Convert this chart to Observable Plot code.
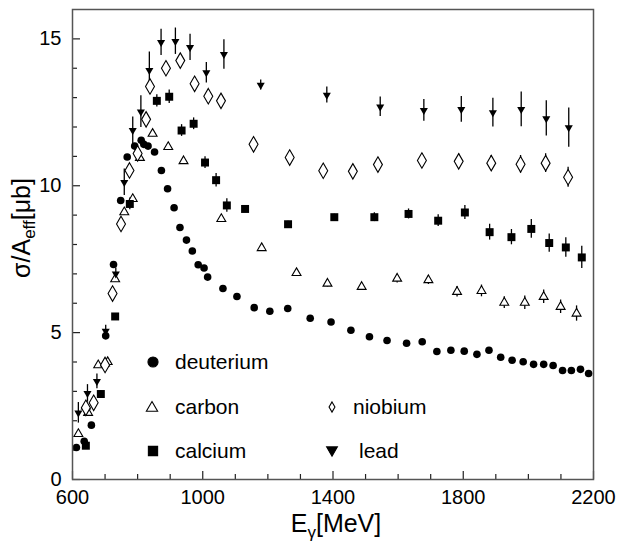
<!DOCTYPE html>
<html><head><meta charset="utf-8">
<script src="https://cdn.jsdelivr.net/npm/d3@7"></script>
<script src="https://cdn.jsdelivr.net/npm/@observablehq/plot@0.6"></script>
<style>
body{margin:0;background:#fff}
#chart{position:relative;width:618px;height:547px}
</style></head><body><div id="chart"></div>
<script>
// ---- data (photon energy in MeV, sigma/A_eff in microbarn) ----
const deutE = [612,636,658,702,726,748,768,791,811,819,832,852,873,892,912,930,950,968,986,1004,1015,1062,1105,1158,1206,1261,1330,1394,1455,1512,1566,1626,1674,1719,1762,1803,1842,1879,1915,1950,1984,2016,2047,2076,2105,2132,2160,2185];
const deutV = [1.09,1.30,1.85,4.89,7.32,9.50,10.98,11.35,11.55,11.41,11.35,11.15,10.52,9.90,9.25,8.58,8.15,7.78,7.31,7.20,6.89,6.50,6.23,5.85,5.73,5.82,5.49,5.36,5.08,4.86,4.73,4.64,4.69,4.36,4.40,4.37,4.26,4.40,4.16,4.06,4.01,3.92,3.92,3.88,3.71,3.71,3.75,3.61];

const carbE = [618,641,648,679,700,708,731,759,785,807,846,894,941,1057,1181,1288,1383,1488,1597,1693,1781,1856,1926,1989,2047,2099,2148];
const carbV = [1.55,2.49,2.27,3.89,3.95,4.00,6.82,9.10,9.55,10.95,11.77,11.32,10.84,8.87,7.88,7.03,6.67,6.56,6.84,6.79,6.39,6.42,6.02,6.02,6.22,5.88,5.65];
const carbErr = [0.1,0.1,0.1,0.1,0.1,0.1,0.1,0.1,0.1,0.1,0.1,0.1,0.1,0.1,0.1,0.1,0.12,0.12,0.15,0.15,0.18,0.2,0.2,0.23,0.23,0.23,0.26];

const calcE = [641,687,731,776,859,897,935,972,1007,1041,1074,1130,1262,1404,1527,1632,1723,1805,1881,1948,2009,2064,2115,2164];
const calcV = [1.15,2.91,5.55,9.38,12.89,13.03,11.88,12.11,10.79,10.19,9.33,9.21,8.69,8.93,8.93,9.04,8.81,9.09,8.42,8.25,8.53,8.05,7.90,7.56];
const calcErr = [0.1,0.1,0.1,0.2,0.21,0.23,0.2,0.2,0.2,0.23,0.23,0.1,0.1,0.1,0.15,0.17,0.2,0.24,0.27,0.26,0.32,0.31,0.33,0.38];

const niobE = [641,665,700,723,749,775,800,826,838,887,931,975,1017,1056,1156,1267,1370,1461,1538,1673,1786,1886,1976,2053,2122];
const niobV = [2.44,2.61,3.90,6.33,8.70,10.52,11.10,12.26,13.38,14.00,14.26,13.47,13.05,12.89,11.41,10.96,10.51,10.49,10.72,10.86,10.83,10.77,10.73,10.77,10.29];
const niobErr = [0.1,0.1,0.1,0.1,0.1,0.2,0.2,0.2,0.2,0.2,0.2,0.2,0.2,0.2,0.2,0.2,0.2,0.2,0.22,0.24,0.25,0.26,0.3,0.32,0.34];

const leadE = [618,646,675,702,733,759,785,810,836,872,916,961,1011,1065,1178,1381,1545,1679,1794,1891,1978,2055,2124];
const leadV = [2.27,2.93,3.34,5.05,7.00,10.12,11.89,12.52,13.93,14.88,14.92,14.71,13.85,14.47,13.43,13.09,12.69,12.57,12.60,12.49,12.60,12.29,11.98];
const leadErr = [0.35,0.3,0.25,0.2,0.2,0.45,0.45,0.54,0.62,0.45,0.45,0.45,0.35,0.5,0.17,0.27,0.33,0.37,0.44,0.49,0.59,0.6,0.67];

const xTicks = [600,1000,1400,1800,2200];
const xMinor = [700,800,900,1100,1200,1300,1500,1600,1700,1900,2000,2100];
const yTicks = [0,5,10,15];
const yMinor = [1,2,3,4,6,7,8,9,11,12,13,14];
const legendNames = ["deuterium","carbon","calcium","niobium","lead"];

// ---- layout ----
const W = 618, H = 547;
const mL = 72, mR = 25, mT = 9, mB = 68;
const plotW = W - mL - mR, plotH = H - mT - mB;

const triDown = {draw(ctx, size){
  const y = -Math.sqrt(size/(Math.sqrt(3)*3)), s = Math.sqrt(3);
  ctx.moveTo(0, -2*y); ctx.lineTo(-s*y, y); ctx.lineTo(s*y, y); ctx.closePath();
}};

const rows = (E, V, err) => E.map((e,i)=>({E:e, V:V[i], err: err ? err[i] : 0}));
const deut = rows(deutE, deutV, null);
const carb = rows(carbE, carbV, carbErr);
const calc = rows(calcE, calcV, calcErr);
const niob = rows(niobE, niobV, niobErr);
const lead = rows(leadE, leadV, leadErr);

const errBars = d => Plot.ruleX(d, {x:"E", y1: r=>r.V-r.err, y2: r=>r.V+r.err, stroke:"black", strokeWidth:1.3});

const chart = Plot.plot({
  width: W, height: H,
  marginLeft: mL, marginRight: mR, marginTop: mT, marginBottom: mB,
  style: {fontFamily: "'Liberation Sans', Arial, sans-serif", fontSize: "20px", background: "white", color: "black"},
  x: {domain: [600, 2200]},
  y: {domain: [0, 16]},
  marks: [
    Plot.tickY(yTicks, {y: d=>d, insetRight: plotW - 8, stroke: "#222", strokeWidth: 1.2}),
    Plot.tickY(yMinor, {y: d=>d, insetRight: plotW - 5, stroke: "#222", strokeWidth: 1.2}),
    Plot.tickX(xTicks, {x: d=>d, insetTop: plotH - 8, stroke: "#222", strokeWidth: 1.2}),
    Plot.tickX(xMinor, {x: d=>d, insetTop: plotH - 5, stroke: "#222", strokeWidth: 1.2}),
    Plot.axisX({ticks: xTicks, tickSize: 0, tickPadding: 10, label: null, fontSize: 20, tickFormat: d3.format("d")}),
    Plot.axisY({ticks: yTicks, tickSize: 0, tickPadding: 11, label: null, fontSize: 20, tickFormat: d3.format("d")}),
    errBars(carb), errBars(calc), errBars(niob), errBars(lead),
    Plot.dot(deut, {x:"E", y:"V", r:3.8, fill:"black", stroke:"none"}),
    Plot.dot(carb, {x:"E", y:"V", symbol:"triangle", r:3.3, fill:"white", stroke:"black", strokeWidth:1.1}),
    Plot.dot(calc, {x:"E", y:"V", symbol:"square", r:4.5, fill:"black", stroke:"none"}),
    Plot.dot(niob, {x:"E", y:"V", symbol:"diamond", r:4.7, fill:"white", stroke:"black", strokeWidth:1.1}),
    Plot.dot(lead, {x:"E", y:"V", symbol:triDown, r:3.0, fill:"black", stroke:"none"}),
    Plot.frame({stroke:"#555", strokeWidth:1.5})
  ]
});
document.getElementById("chart").appendChild(chart);

// ---- axis titles and legend (drawn as text in the same svg) ----
const svg = d3.select(chart);
const ff = "'Liberation Sans', Arial, sans-serif";
const yl = svg.append("text").attr("transform","translate(30,228) rotate(-90)")
  .attr("text-anchor","middle").attr("font-family",ff).attr("font-size",25).attr("fill","black");
yl.append("tspan").text("σ/A");
yl.append("tspan").attr("font-size",17).attr("dy",5).text("eff");
yl.append("tspan").attr("dy",-5).text("[μb]");
const xl = svg.append("text").attr("x",336).attr("y",532)
  .attr("text-anchor","middle").attr("font-family",ff).attr("font-size",25).attr("fill","black");
xl.append("tspan").text("E");
xl.append("tspan").attr("font-size",17).attr("dy",6).text("γ");
xl.append("tspan").attr("dy",-6).text("[MeV]");

const legSym = [d3.symbolCircle, d3.symbolTriangle, d3.symbolSquare, d3.symbolDiamond, triDown];
const legSize = [80, 55, 85, 30, 50];
const legFill = ["black","white","black","white","black"];
const legPos = [[153,362,175,369],[152,408,175,414],[153,451,175,458],[332,407,353,414],[332,450,359,458]];
legendNames.forEach((n,i)=>{
  const [sx,sy,tx,ty] = legPos[i];
  svg.append("path").attr("d", d3.symbol(legSym[i], legSize[i])())
    .attr("transform",`translate(${sx},${sy})`).attr("fill",legFill[i]).attr("stroke","black").attr("stroke-width",1.1);
  svg.append("text").attr("x",tx).attr("y",ty).attr("text-anchor","start")
    .attr("font-family",ff).attr("font-size",21).attr("fill","black").text(n);
});
</script></body></html>
